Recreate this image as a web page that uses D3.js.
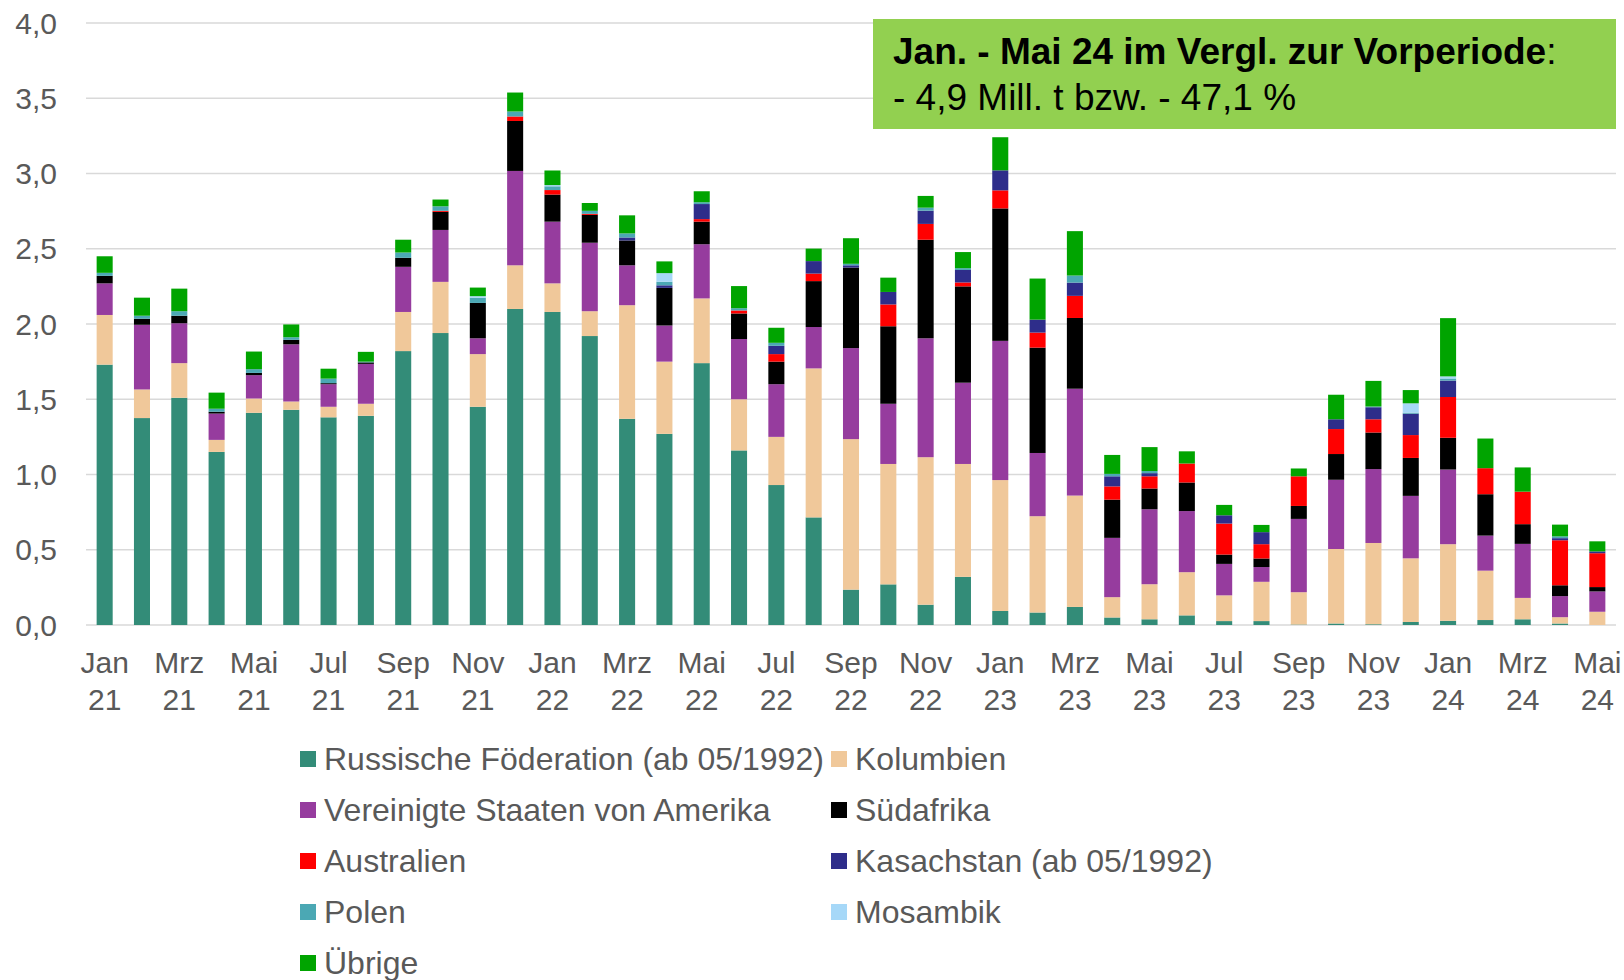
<!DOCTYPE html>
<html>
<head>
<meta charset="utf-8">
<script src="https://cdn.jsdelivr.net/npm/d3@7"></script>
<style>
  body { margin: 0; background: #fff; }
  svg text { font-family: "Liberation Sans", Arial, sans-serif; }
</style>
</head>
<body>
<svg id="chart" width="1624" height="980"></svg>
<script>
const months = ['Jan 21','Feb 21','Mrz 21','Apr 21','Mai 21','Jun 21','Jul 21','Aug 21','Sep 21','Okt 21','Nov 21','Dez 21',
  'Jan 22','Feb 22','Mrz 22','Apr 22','Mai 22','Jun 22','Jul 22','Aug 22','Sep 22','Okt 22','Nov 22','Dez 22',
  'Jan 23','Feb 23','Mrz 23','Apr 23','Mai 23','Jun 23','Jul 23','Aug 23','Sep 23','Okt 23','Nov 23','Dez 23',
  'Jan 24','Feb 24','Mrz 24','Apr 24','Mai 24'];

const russland = [1.73,1.375,1.51,1.15,1.41,1.43,1.38,1.39,1.82,1.94,1.45,2.10,2.08,1.92,1.37,1.27,1.74,1.16,0.93,0.715,0.235,0.27,0.135,0.32,
  0.093,0.083,0.12,0.05,0.038,0.064,0.026,0.026,0.003,0.01,0.005,0.02,0.028,0.033,0.038,0.01,0.0];
const kolumbien = [0.33,0.19,0.23,0.08,0.095,0.055,0.07,0.08,0.26,0.34,0.35,0.29,0.19,0.165,0.755,0.48,0.43,0.34,0.32,0.99,1.0,0.80,0.98,0.75,
  0.87,0.64,0.74,0.135,0.233,0.287,0.171,0.261,0.215,0.495,0.54,0.423,0.509,0.328,0.142,0.042,0.088];
const usa = [0.21,0.43,0.265,0.175,0.155,0.38,0.15,0.265,0.30,0.345,0.105,0.627,0.41,0.455,0.265,0.24,0.36,0.40,0.35,0.275,0.605,0.40,0.79,0.54,
  0.925,0.42,0.71,0.394,0.498,0.406,0.209,0.098,0.487,0.46,0.491,0.415,0.496,0.233,0.359,0.14,0.135];
const suedafrika = [0.05,0.04,0.05,0.012,0.015,0.03,0.007,0.01,0.06,0.12,0.235,0.332,0.18,0.185,0.165,0.25,0.15,0.17,0.15,0.305,0.535,0.515,0.655,0.64,
  0.88,0.70,0.47,0.254,0.138,0.19,0.062,0.057,0.086,0.171,0.243,0.252,0.211,0.275,0.131,0.072,0.029];
const australien = [0,0,0,0,0,0,0,0,0,0.007,0,0.03,0.03,0.007,0,0,0.017,0.02,0.05,0.05,0,0.145,0.105,0.026,
  0.12,0.10,0.147,0.088,0.081,0.126,0.206,0.095,0.197,0.166,0.088,0.152,0.271,0.173,0.216,0.299,0.225];
const kasachstan = [0,0,0,0,0,0,0,0,0,0,0,0,0,0,0.02,0.017,0.10,0,0.055,0.083,0.015,0.083,0.088,0.083,
  0.133,0.086,0.088,0.067,0.021,0,0.055,0.08,0,0.065,0.08,0.142,0.109,0,0,0.014,0.012];
const polen = [0.02,0.02,0.03,0.02,0.025,0.017,0.03,0.005,0.035,0.03,0.035,0.033,0.025,0.02,0.027,0.024,0.012,0.015,0.02,0,0.01,0,0.02,0.012,
  0,0,0.047,0.016,0.014,0,0,0,0,0,0.005,0.007,0.014,0,0,0.012,0];
const mosambik = [0,0,0,0,0,0,0,0,0,0,0.01,0,0.008,0,0,0.057,0,0,0,0,0,0,0,0,
  0,0,0,0,0,0,0,0,0,0,0,0.062,0.014,0,0,0,0];
const uebrige = [0.11,0.12,0.15,0.107,0.117,0.085,0.066,0.065,0.085,0.045,0.057,0.126,0.097,0.052,0.12,0.078,0.073,0.147,0.10,0.083,0.17,0.095,0.078,0.107,
  0.22,0.273,0.295,0.126,0.159,0.081,0.069,0.048,0.052,0.163,0.17,0.088,0.387,0.197,0.161,0.078,0.067];

const seriesNames = ['Russische Föderation (ab 05/1992)','Kolumbien','Vereinigte Staaten von Amerika','Südafrika',
  'Australien','Kasachstan (ab 05/1992)','Polen','Mosambik','Übrige'];
const seriesValues = [russland, kolumbien, usa, suedafrika, australien, kasachstan, polen, mosambik, uebrige];
const colors = ['#338C78','#F0C89A','#963C9E','#000000','#FF0000','#2E2D8A','#4BA8B4','#A6D8F8','#00A400'];

const yTicks = [0, 0.5, 1, 1.5, 2, 2.5, 3, 3.5, 4];
const boxLine1 = 'Jan. - Mai 24 im Vergl. zur Vorperiode';
const boxLine2 = '- 4,9 Mill. t bzw. - 47,1 %';

const svg = d3.select('#chart');
const margin = { top: 23, right: 8, bottom: 355, left: 86 };
const width = 1624, height = 980;

// table for the stack
const table = months.map((m, i) => {
  const row = { month: m };
  seriesNames.forEach((s, k) => { row[s] = seriesValues[k][i]; });
  return row;
});
const stacked = d3.stack().keys(seriesNames)(table);

const x = d3.scaleBand()
  .domain(months)
  .range([margin.left, width - margin.right])
  .paddingInner(0.57)
  .paddingOuter(0.285);

const y = d3.scaleLinear()
  .domain([0, 4])
  .range([height - margin.bottom, margin.top]);

// grid lines
svg.append('g')
  .selectAll('line')
  .data(yTicks)
  .join('line')
  .attr('x1', margin.left)
  .attr('x2', width - margin.right)
  .attr('y1', d => y(d))
  .attr('y2', d => y(d))
  .attr('stroke', '#D9D9D9')
  .attr('stroke-width', 1.5);

// y axis labels
const fmt = d => d3.format('.1f')(d).replace('.', ',');
svg.append('g')
  .selectAll('text')
  .data(yTicks)
  .join('text')
  .attr('x', 57)
  .attr('y', d => y(d))
  .attr('dy', '0.35em')
  .attr('text-anchor', 'end')
  .attr('fill', '#595959')
  .style('font-size', '30px')
  .text(fmt);

// bars
svg.append('g')
  .selectAll('g')
  .data(stacked)
  .join('g')
  .attr('fill', (d, i) => colors[i])
  .selectAll('rect')
  .data(d => d.filter(p => p[1] - p[0] > 0))
  .join('rect')
  .attr('x', d => x(d.data.month))
  .attr('width', x.bandwidth())
  .attr('y', d => y(d[1]))
  .attr('height', d => y(d[0]) - y(d[1]));

// x labels every second month, two lines
const xLab = svg.append('g')
  .selectAll('text')
  .data(months.filter((m, i) => i % 2 === 0))
  .join('text')
  .attr('text-anchor', 'middle')
  .attr('fill', '#595959')
  .style('font-size', '30px');
xLab.append('tspan')
  .attr('x', d => x(d) + x.bandwidth() / 2)
  .attr('y', 673)
  .text(d => d.split(' ')[0]);
xLab.append('tspan')
  .attr('x', d => x(d) + x.bandwidth() / 2)
  .attr('y', 710)
  .text(d => d.split(' ')[1]);

// legend
const legendPos = seriesNames.map((s, i) => ({
  name: s,
  color: colors[i],
  lx: i % 2 === 0 ? 300 : 831,
  ly: 759 + Math.floor(i / 2) * 51
}));
const leg = svg.append('g')
  .selectAll('g')
  .data(legendPos)
  .join('g')
  .attr('transform', d => `translate(${d.lx},${d.ly})`);
leg.append('rect')
  .attr('x', 0)
  .attr('y', -8)
  .attr('width', 16)
  .attr('height', 16)
  .attr('fill', d => d.color);
leg.append('text')
  .attr('x', 24)
  .attr('dy', '0.35em')
  .attr('fill', '#595959')
  .style('font-size', '32px')
  .text(d => d.name);

// annotation box
const box = svg.append('g');
box.append('rect')
  .attr('x', 873)
  .attr('y', 19)
  .attr('width', 743)
  .attr('height', 110)
  .attr('fill', '#92D050');
const t1 = box.append('text')
  .attr('x', 893)
  .attr('y', 64)
  .attr('fill', '#000')
  .style('font-size', '37px');
t1.append('tspan').style('font-weight', 'bold').text(boxLine1);
t1.append('tspan').text(':');
box.append('text')
  .attr('x', 893)
  .attr('y', 110)
  .attr('fill', '#000')
  .style('font-size', '37px')
  .text(boxLine2);
</script>
</body>
</html>
